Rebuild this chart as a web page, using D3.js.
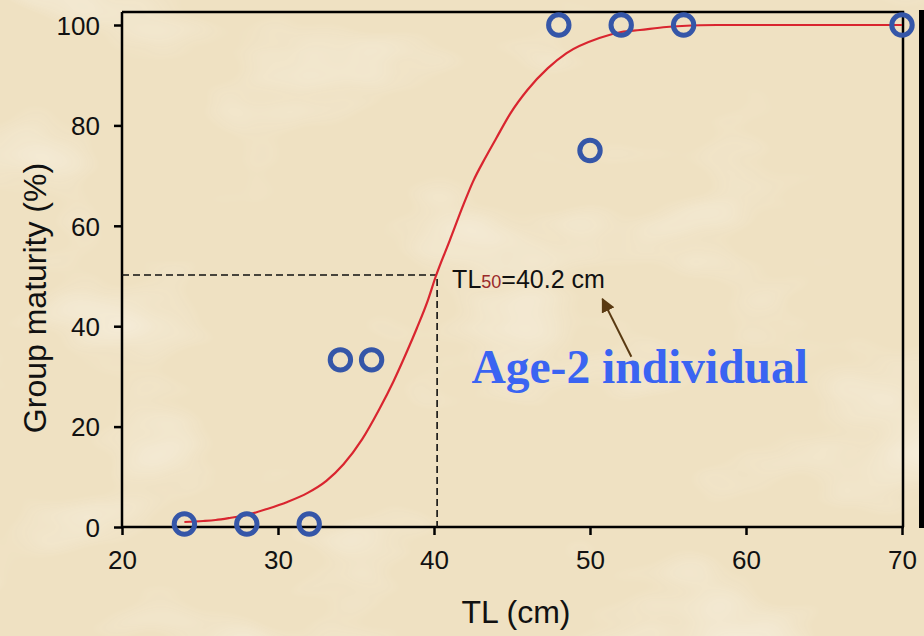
<!DOCTYPE html>
<html>
<head>
<meta charset="utf-8">
<script src="https://cdn.jsdelivr.net/npm/d3@7"></script>
<style>
  html, body { margin: 0; padding: 0; background: #efe1c2; }
  svg { display: block; }
</style>
</head>
<body>
<script>
// Tick labels
var xTicks = [20, 30, 40, 50, 60, 70];
var yTicks = [0, 20, 40, 60, 80, 100];

// Observed group maturity (open circles)
var obsTL  = [24, 28, 32, 34, 36, 48, 50, 52, 56, 70];
var obsPct = [0.6, 0.6, 0.6, 33.3, 33.3, 100, 75, 100, 100, 100];

// Fitted maturity curve
var fitTL  = [24, 25.2, 26, 26.9, 28, 29.3, 30.6, 31.9, 33.1, 34.2, 35.4, 36.5, 37.4, 38.3, 38.9, 39.6, 40.1, 41.0, 41.9, 42.5, 43.3, 44.0, 44.9, 46.0, 47.3, 48.5, 50.6, 52, 53.2, 54.9, 55.9, 58.1, 70];
var fitPct = [1.0, 1.2, 1.4, 1.8, 2.4, 3.6, 5.0, 6.8, 9.2, 12.5, 17.5, 23.5, 29.0, 35.2, 39.6, 45.1, 49.8, 57.0, 64.3, 68.8, 73.6, 77.5, 82.4, 87.1, 91.4, 94.4, 97.4, 98.6, 99.0, 99.6, 99.8, 100, 100];

var tl50 = 40.2;

var svgWidth = 924;
var svgHeight = 636;

var svg = d3.select("body")
  .append("svg")
  .attr("width", svgWidth)
  .attr("height", svgHeight);

// paper texture
var defs = svg.append("defs");
var paper = defs.append("filter")
  .attr("id", "paper")
  .attr("x", 0).attr("y", 0).attr("width", "100%").attr("height", "100%");
paper.append("feTurbulence")
  .attr("type", "fractalNoise")
  .attr("baseFrequency", "0.005 0.01")
  .attr("numOctaves", 3)
  .attr("seed", 7);
paper.append("feColorMatrix")
  .attr("type", "matrix")
  .attr("values", "0 0 0 0 1  0 0 0 0 1  0 0 0 0 1  0 0 0 2.4 -1.3");

svg.append("rect")
  .attr("width", svgWidth)
  .attr("height", svgHeight)
  .attr("fill", "#efe1c2");
svg.append("rect")
  .attr("width", svgWidth)
  .attr("height", svgHeight)
  .attr("filter", "url(#paper)")
  .attr("opacity", 0.45);

// dark strip on the right edge
svg.append("rect")
  .attr("x", 919).attr("y", 10)
  .attr("width", 5).attr("height", 518)
  .attr("fill", "#000");

// scales
var x = d3.scaleLinear().domain([20, 70]).range([122, 902]);
var y = d3.scaleLinear().domain([0, 100]).range([527, 25]);
var frameTop = 12;

var font = "'Liberation Sans', Arial, sans-serif";

// frame (top and right)
svg.append("path")
  .attr("d", `M${x(20)},${frameTop}H${x(70) + 1}V${y(0)}`)
  .attr("fill", "none")
  .attr("stroke", "#000")
  .attr("stroke-width", 2.5);

// axes
var bottomAxis = d3.axisBottom(x).tickValues(xTicks).tickSize(8).tickPadding(14).tickSizeOuter(0);
var leftAxis = d3.axisLeft(y).tickValues(yTicks).tickSize(8).tickPadding(14).tickSizeOuter(0);

var gx = svg.append("g")
  .attr("transform", `translate(0,${y(0)})`)
  .call(bottomAxis);
var gy = svg.append("g")
  .attr("transform", `translate(${x(20)},0)`)
  .call(leftAxis);

[gx, gy].forEach(function(g) {
  g.select(".domain").remove();
  g.selectAll("line").attr("stroke", "#000").attr("stroke-width", 2.5);
  g.selectAll("text")
    .attr("fill", "#111")
    .style("font-family", font)
    .style("font-size", "26px");
});
gx.selectAll("text").attr("y", 8).attr("dy", "1.3em");
gy.selectAll("text").attr("dy", "0.36em");

svg.append("line")
  .attr("x1", x(20)).attr("x2", x(20))
  .attr("y1", frameTop).attr("y2", y(0) + 1)
  .attr("stroke", "#000").attr("stroke-width", 2.5);
svg.append("line")
  .attr("x1", x(20) - 1).attr("x2", x(70) + 2)
  .attr("y1", y(0)).attr("y2", y(0))
  .attr("stroke", "#000").attr("stroke-width", 2.5);

// axis titles
svg.append("text")
  .attr("x", 516)
  .attr("y", 623)
  .attr("text-anchor", "middle")
  .style("font-family", font)
  .style("font-size", "32px")
  .attr("fill", "#111")
  .text("TL (cm)");

svg.append("text")
  .attr("transform", "translate(46,298) rotate(-90)")
  .attr("text-anchor", "middle")
  .style("font-family", font)
  .style("font-size", "32px")
  .attr("fill", "#111")
  .text("Group maturity (%)");

// TL50 dashed guides
svg.append("path")
  .attr("d", `M${x(20)},${y(50.2)}H${x(tl50)}V${y(0)}`)
  .attr("fill", "none")
  .attr("stroke", "#111")
  .attr("stroke-width", 1.6)
  .attr("stroke-dasharray", "7,4");

// fitted curve
var fit = fitTL.map(function(d, i) { return { tl: d, pct: fitPct[i] }; });
var line = d3.line()
  .x(d => x(d.tl))
  .y(d => y(d.pct))
  .curve(d3.curveMonotoneX);

svg.append("path")
  .datum(fit)
  .attr("d", line)
  .attr("fill", "none")
  .attr("stroke", "#d9252f")
  .attr("stroke-width", 2.2);

// observed points
var obs = obsTL.map(function(d, i) { return { tl: d, pct: obsPct[i] }; });
svg.append("g").selectAll("circle")
  .data(obs)
  .enter()
  .append("circle")
  .attr("cx", d => x(d.tl))
  .attr("cy", d => y(d.pct))
  .attr("r", 10.2)
  .attr("fill", "none")
  .attr("stroke", "#3556a8")
  .attr("stroke-width", 5);

// TL50 label
var lab = svg.append("text")
  .attr("x", x(tl50) + 15)
  .attr("y", y(50.2) + 13)
  .style("font-family", font)
  .style("font-size", "25px")
  .attr("fill", "#111");
lab.append("tspan").text("TL");
lab.append("tspan").style("font-size", "18px").attr("fill", "#9a2a2a").text("50");
lab.append("tspan").text("=40.2 cm");

// arrow to label
defs.append("marker")
  .attr("id", "head")
  .attr("viewBox", "0 0 10 10")
  .attr("refX", 9).attr("refY", 5)
  .attr("markerWidth", 7).attr("markerHeight", 7)
  .attr("markerUnits", "strokeWidth")
  .attr("orient", "auto")
  .append("path")
  .attr("d", "M0,0L10,5L0,10Z")
  .attr("fill", "#5a3a12");

svg.append("line")
  .attr("x1", x(52.65)).attr("y1", y(33.9))
  .attr("x2", x(50.8)).attr("y2", y(45.4))
  .attr("stroke", "#5a3a12")
  .attr("stroke-width", 2)
  .attr("marker-end", "url(#head)");

svg.append("text")
  .attr("x", x(42.4))
  .attr("y", y(28.7))
  .style("font-family", "'Liberation Serif', 'Times New Roman', serif")
  .style("font-weight", "bold")
  .style("font-size", "47.5px")
  .attr("fill", "#3a64f2")
  .text("Age-2 individual");
</script>
</body>
</html>
